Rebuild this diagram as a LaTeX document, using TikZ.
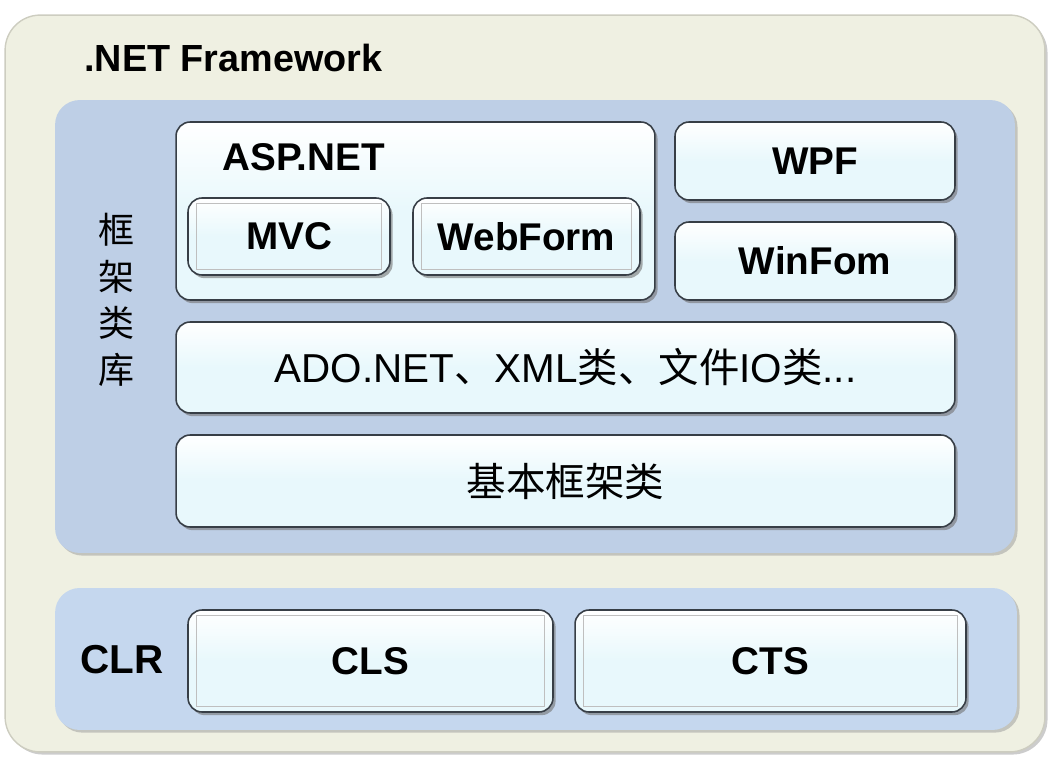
\documentclass[tikz,border=0pt]{standalone}
\usepackage{fontspec}
\usepackage{tikz}
\usetikzlibrary{shadows}
\setmainfont{Liberation Sans}
\newfontfamily\cjk{Noto Sans CJK SC}
\definecolor{cream}{RGB}{239,240,226}
\definecolor{cream_line}{RGB}{205,205,192}
\definecolor{lib_blue}{RGB}{190,207,230}
\definecolor{clr_blue}{RGB}{197,215,238}
\definecolor{box_fill}{RGB}{232,248,252}
\definecolor{box_line}{RGB}{55,62,70}

\tikzset{
	panel/.style={rounded corners=14pt,draw=none,drop shadow={shadow xshift=1.5pt,shadow yshift=-1.5pt,fill=black!40,opacity=.5}},
	layerbox/.style={rounded corners=8pt,draw=box_line,line width=0.9pt,top color=white,bottom color=box_fill,middle color=box_fill,
		drop shadow={shadow xshift=1.5pt,shadow yshift=-1.8pt,fill=black!55,opacity=.6},
		font=\fontsize{22}{26}\selectfont\bfseries,inner sep=0pt},
	innerbox/.style={layerbox,path picture={\draw[black!25,line width=0.6pt,sharp corners]
		([shift={(5pt,-3pt)}]path picture bounding box.north west) rectangle
		([shift={(-5pt,3pt)}]path picture bounding box.south east);}},
	tag/.style={font=\fontsize{22}{26}\selectfont\bfseries,inner sep=0pt,anchor=west}
}

\begin{document}
\begin{tikzpicture}[x=0.02cm,y=-0.02cm]
	\useasboundingbox (0,0) rectangle (1052,760);
	% outer frame
	\node[panel,fill=cream,draw=cream_line,line width=0.8pt,rounded corners=20pt,minimum width=20.8cm,minimum height=14.74cm] (net) at (525,383.5) {};
	\node[tag,font=\fontsize{21.5}{26}\selectfont\bfseries] (title) at (84,58) {.NET Framework};

	% class library
	\node[panel,fill=lib_blue,minimum width=19.2cm,minimum height=9.06cm] (lib) at (535,326.5) {};
	\node[align=center,font=\cjk\fontsize{20.5}{26.5}\selectfont,inner sep=0pt] (libtag) at (117,300) {框\\架\\类\\库};

	\node[layerbox,minimum width=9.58cm,minimum height=3.56cm] (asp) at (415.5,211) {};
	\node[tag] (asptag) at (222,157) {ASP.NET};
	\node[innerbox,minimum width=4.04cm,minimum height=1.54cm] (mvc) at (289,236.5) {MVC};
	\node[innerbox,minimum width=4.54cm,minimum height=1.54cm] (webform) at (526.5,236.5) {WebForm};

	\node[layerbox,minimum width=5.6cm,minimum height=1.56cm] (wpf) at (815,161) {WPF};
	\node[layerbox,minimum width=5.6cm,minimum height=1.56cm] (winform) at (815,261) {WinFom};

	\node[layerbox,minimum width=15.58cm,minimum height=1.82cm,font=\fontsize{23}{26}\selectfont] (ado) at (565.5,367.5)
		{ADO.NET{\cjk 、}XML{\cjk 类、文件}IO{\cjk 类}...};
	\node[layerbox,minimum width=15.58cm,minimum height=1.84cm,font=\cjk\fontsize{22.5}{26}\selectfont] (base) at (565.5,481) {基本框架类};

	% runtime
	\node[panel,fill=clr_blue,minimum width=19.24cm,minimum height=2.84cm] (clr) at (536,659) {};
	\node[tag,font=\fontsize{23}{26}\selectfont\bfseries] (clrtag) at (80,660) {CLR};
	\node[innerbox,minimum width=7.3cm,minimum height=2.04cm] (cls) at (370.5,661) {CLS};
	\node[innerbox,minimum width=7.82cm,minimum height=2.04cm] (cts) at (770.5,661) {CTS};
\end{tikzpicture}
\end{document}
